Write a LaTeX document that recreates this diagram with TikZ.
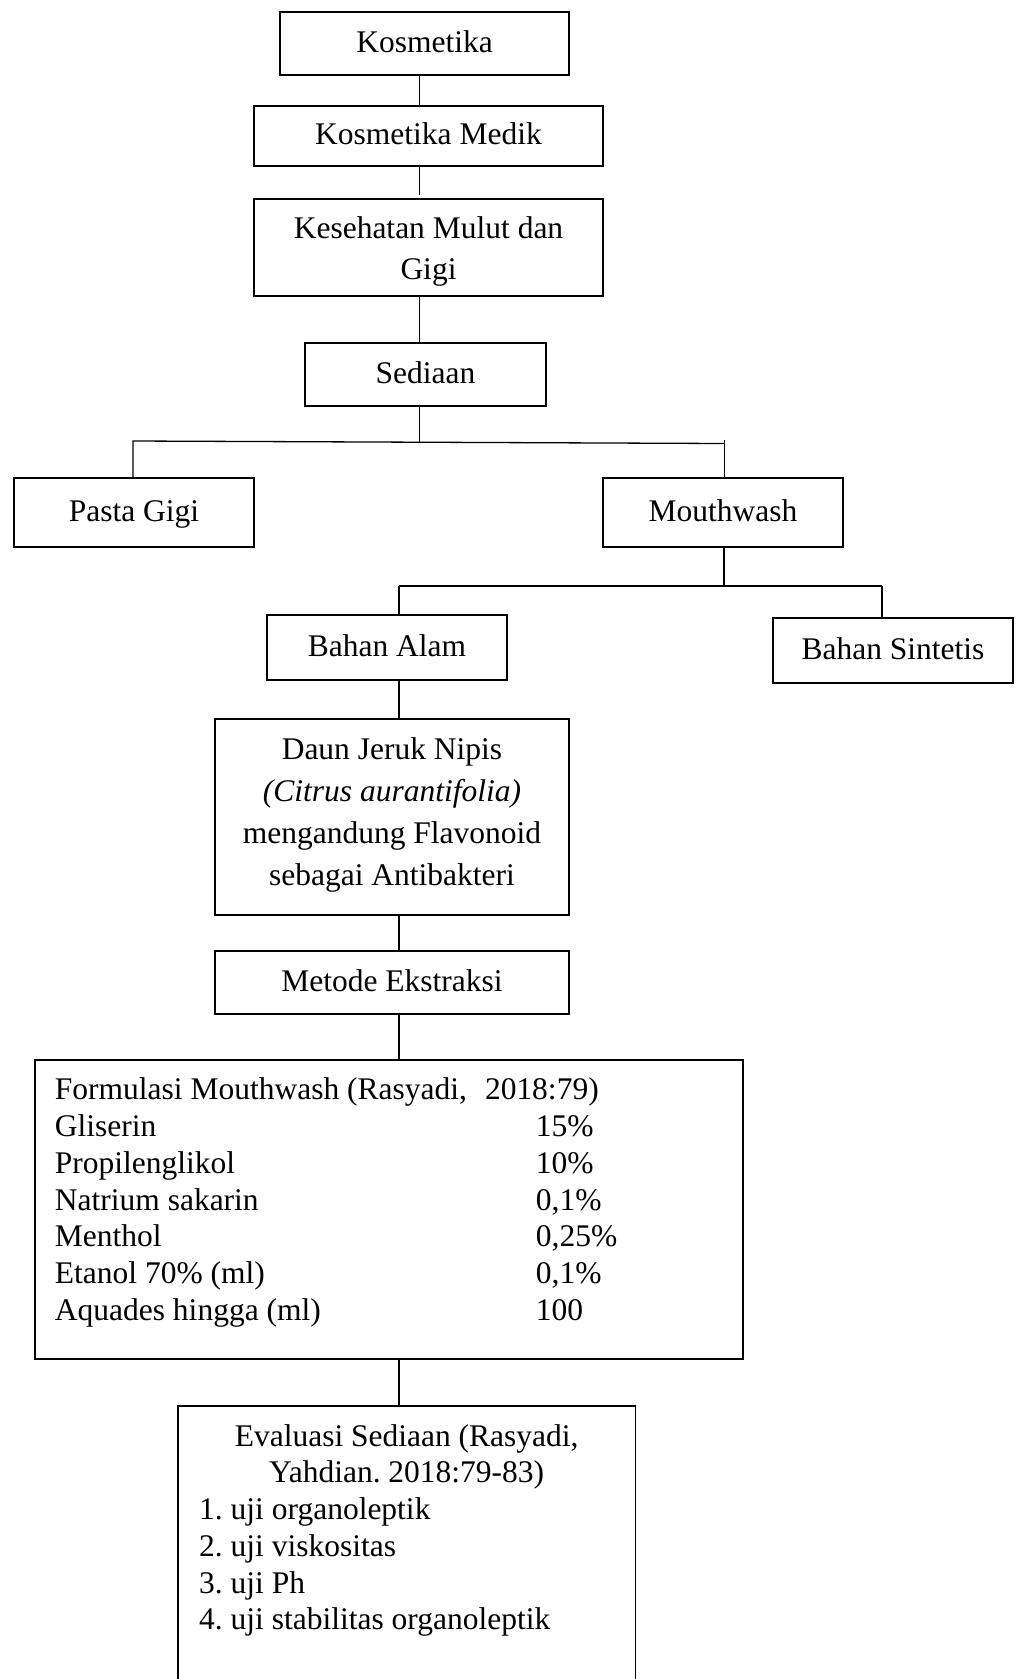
\documentclass[tikz,border=0pt]{standalone}
\usepackage{fontspec}
\setmainfont{Liberation Serif}
\begin{document}
\frenchspacing
\begin{tikzpicture}[x=1pt,y=-1pt,
  box/.style={draw, line width=1.8pt, inner sep=0pt, align=center,
    font=\fontsize{31.5}{41}\selectfont},
  one/.style={text height=23.2pt, text depth=6.2pt},
  pbox/.style={inner sep=0pt, font=\fontsize{31.5}{41}\selectfont},
  conn/.style={line width=1.3pt},
  boxline/.style={line width=1.8pt}]
\useasboundingbox (0,0) rectangle (1015,1679);

% boxes
\node[box, one, minimum width=289pt, minimum height=63pt] (kos) at (424.5,43.5) {Kosmetika};
\node[box, one, minimum width=349pt, minimum height=60pt] (med) at (428.5,136) {Kosmetika Medik};
\node[pbox, draw, line width=1.8pt] (kes) at (428.5,247.5)
  {\parbox[c][97pt][t]{349pt}{\centering\rule{0pt}{39.6pt}Kesehatan Mulut dan\\Gigi}};
\node[box, one, minimum width=241pt, minimum height=63pt] (sed) at (425.5,374.5) {Sediaan};
\node[box, one, minimum width=240pt, minimum height=69pt] (pasta) at (134,512.5) {Pasta Gigi};
\node[box, one, minimum width=240pt, minimum height=69pt] (mouth) at (723,512.5) {Mouthwash};
\node[box, one, minimum width=240pt, minimum height=65pt] (alam) at (387,647.5) {Bahan Alam};
\node[box, one, minimum width=240pt, minimum height=65pt] (sint) at (893,650.5) {Bahan Sintetis};
\node[pbox, draw, line width=1.8pt, font=\fontsize{31.5}{42}\selectfont] (daun) at (392,817)
  {\parbox[c][196pt][t]{354pt}{\centering\rule{0pt}{40pt}Daun Jeruk Nipis\\\textit{(Citrus aurantifolia)}\\mengandung Flavonoid\\sebagai Antibakteri}};
\node[box, one, minimum width=354pt, minimum height=63pt] (metode) at (392,982.5) {Metode Ekstraksi};
\node[pbox, draw, line width=1.8pt, font=\fontsize{31.5}{36.7}\selectfont, anchor=north west] (form) at (34,1059)
  {\parbox[c][299pt][t]{708pt}{\leftskip=20pt
   \rule{0pt}{40pt}Formulasi Mouthwash (Rasyadi,\hspace{18pt}2018:79)\\
   \makebox[481pt][l]{Gliserin}15\%\\
   \makebox[481pt][l]{Propilenglikol}10\%\\
   \makebox[481pt][l]{Natrium sakarin}0,1\%\\
   \makebox[481pt][l]{Menthol}0,25\%\\
   \makebox[481pt][l]{Etanol 70\% (ml)}0,1\%\\
   \makebox[481pt][l]{Aquades hingga (ml)}100\par}};
\node[pbox, font=\fontsize{31.5}{36.7}\selectfont, anchor=north west] (eval) at (178,1406)
  {\parbox[c][273pt][t]{457pt}{\centering\rule{0pt}{40pt}Evaluasi Sediaan (Rasyadi,\\Yahdian. 2018:79-83)\par
   \raggedright\leftskip=21pt
   1. uji organoleptik\\
   2. uji viskositas\\
   3. uji Ph\\
   4. uji stabilitas organoleptik\par}};
\draw[boxline] (eval.south west) -- (eval.north west) -- (eval.north east) -- (eval.south east);

% connectors
\coordinate (t1) at (419.5,0);
\draw[conn] (kos.south -| t1) -- (med.north -| t1);
\draw[conn] (med.south -| t1) -- ([yshift=3pt]kes.north -| t1);
\draw[conn] (kes.south -| t1) -- (sed.north -| t1);
\coordinate (hl) at (133,441);
\coordinate (hr) at (724.5,443.5);
\coordinate (hm) at (419.5,443);
\coordinate (hrt) at (724.5,440);
\draw[conn] (sed.south -| t1) -- (hm);
\draw[conn] (pasta.north -| hl) -- (hl) -- (hr);
\draw[conn] (hrt) -- (mouth.north -| hrt);

\coordinate (bm) at (724,586);
\coordinate (bl) at (399,586);
\coordinate (br) at (882,586);
\draw[conn] (mouth.south -| bm) -- (bm);
\draw[conn] (bl) -- (br);
\draw[conn] (bl) -- (alam.north -| bl);
\draw[conn] (br) -- (sint.north -| br);

\coordinate (t2) at (399,0);
\draw[conn] (alam.south -| t2) -- (daun.north -| t2);
\draw[conn] (daun.south -| t2) -- (metode.north -| t2);
\draw[conn] (metode.south -| t2) -- (form.north -| t2);
\draw[conn] (form.south -| t2) -- (eval.north -| t2);
\end{tikzpicture}
\end{document}
